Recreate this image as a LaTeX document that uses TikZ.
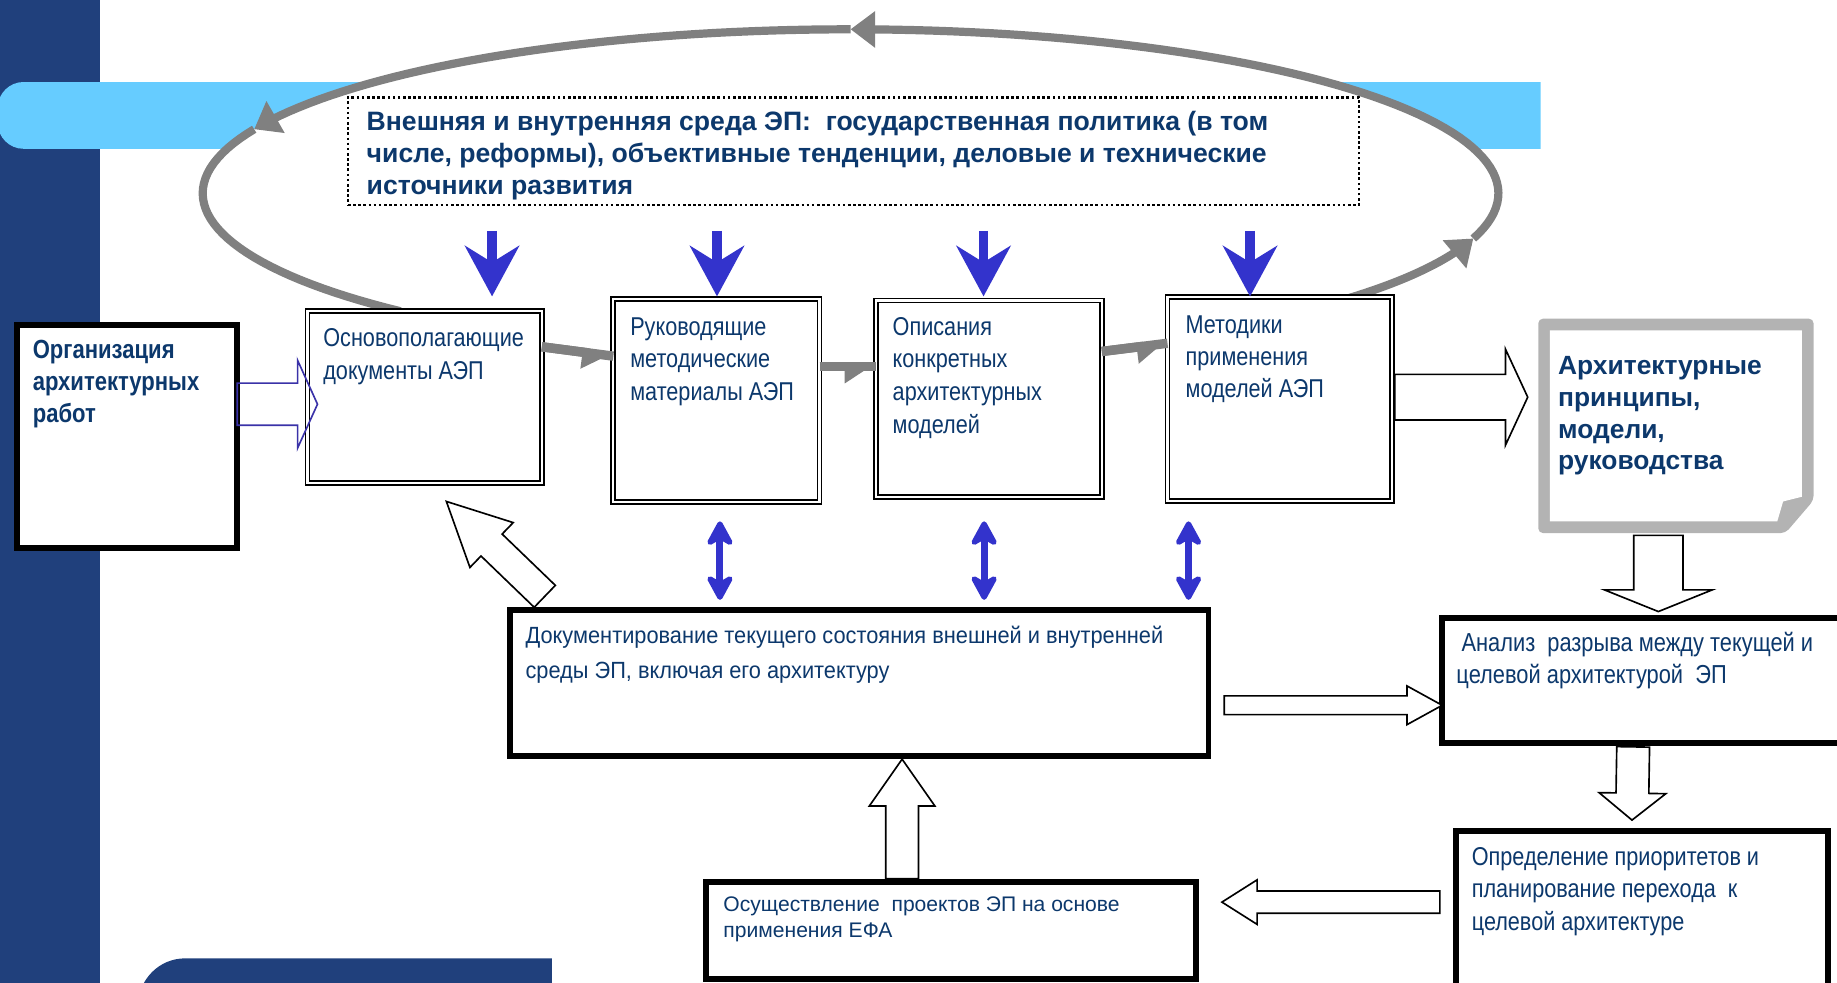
\documentclass[tikz,border=0pt]{standalone}
\usepackage{fontspec}
\setmainfont{Liberation Sans}
\newfontfamily\narrowfont[FakeStretch=0.84]{Liberation Sans}
\newfontfamily\docfont[FakeStretch=0.93]{Liberation Sans}
\usetikzlibrary{calc,arrows.meta}

\definecolor{barblue}{RGB}{32,64,124}
\definecolor{bandblue}{RGB}{102,204,255}
\definecolor{inkblue}{RGB}{12,56,108}
\definecolor{flowblue}{RGB}{51,51,204}
\definecolor{loopgray}{RGB}{128,128,128}
\definecolor{docgray}{RGB}{179,179,179}
\definecolor{edgeblue}{RGB}{58,50,168}

% hollow block arrow: [style]{tail}{tip}{shaft half-width}{head half-width}{head length}
\newcommand{\blockarrow}[6][]{%
  \coordinate (bahead) at ($(#3)!#6!(#2)$);
  \draw[blockedge,#1]
    ($(#2)!#4!90:(#3)$) -- ($(bahead)!#4!90:(#3)$) -- ($(bahead)!#5!90:(#3)$)
    -- (#3) -- ($(bahead)!#5!-90:(#3)$) -- ($(bahead)!#4!-90:(#3)$)
    -- ($(#2)!#4!-90:(#3)$) -- cycle;}

\tikzset{
  blockedge/.style={draw=black, line width=1.4pt, fill=white, line join=miter},
  framebox/.style={draw=black, line width=5pt, fill=white, inner sep=0pt, outer sep=0pt, anchor=north west},
  doublebox/.style={draw=black, double=white, double distance=1.8pt, line width=1.6pt, fill=white, inner sep=0pt, outer sep=0pt, anchor=north west},
  boxtext/.style={inner sep=0pt, outer sep=0pt, anchor=north west, align=left, text=inkblue},
  narrowtext/.style={boxtext, font=\narrowfont\fontsize{22}{28}\selectfont},
  loopline/.style={draw=loopgray, line width=7pt, -{Triangle[length=21pt,width=30pt]}},
  loopend/.style={draw=loopgray, line width=7pt},
  linkline/.style={draw=loopgray, line width=8pt,
    postaction={draw=loopgray, line width=8pt, -{Triangle[harpoon,swap,length=22pt,width=27pt]}}},
  flowdown/.style={draw=flowblue, line width=8pt, -{Stealth[length=43pt,width=46pt,inset=14pt]}},
  flowboth/.style={draw=flowblue, line width=6pt,
    {Stealth[round,length=26pt,width=28pt,inset=8pt]}-{Stealth[round,length=26pt,width=28pt,inset=8pt]}},
}

\begin{document}
\begin{tikzpicture}[x=1pt, y=-1pt]
\useasboundingbox (0,0) rectangle (1568,839);

% slide decoration
\fill[barblue] (0,0) rectangle (85,839);
\fill[bandblue] (1315,70) -- (20,70) .. controls (8,70) and (-2,80) .. (-2,92)
  -- (-2,105) .. controls (-2,117) and (8,127) .. (20,127) -- (1315,127) -- cycle;
\fill[barblue] (471,860) -- (471,818) -- (158,818) .. controls (136,818) and (118,836) .. (118,858) -- cycle;

% white field inside the feedback loop
\fill[white] (726,165) ellipse [x radius=553, y radius=140];

% environment box
\node[draw=black, line width=2.2pt, dash pattern=on 2.2pt off 2.2pt, inner sep=0pt, outer sep=0pt,
  minimum width=863, minimum height=92, anchor=north west] (env) at (297,83) {};

% feedback loop around the environment
\draw[loopline] plot[domain=-40:-16, samples=20] ({726+553*cos(\x)},{165-140*sin(\x)});
\draw[loopline] plot[domain=-16:90, samples=60] ({726+553*cos(\x)},{165-140*sin(\x)});
\draw[loopline] plot[domain=90:157, samples=40] ({726+553*cos(\x)},{165-140*sin(\x)});
\draw[loopend] plot[domain=157:226, samples=40] ({726+553*cos(\x)},{165-140*sin(\x)});

% boxes
\node[framebox, minimum width=188, minimum height=190] (org) at (14.5,277.5) {};
\node[doublebox, minimum width=200, minimum height=147] (b1) at (262.5,265.5) {};
\node[doublebox, minimum width=176, minimum height=173] (b2) at (523.5,255.5) {};
\node[doublebox, minimum width=193, minimum height=168] (b3) at (747.5,256.5) {};
\node[doublebox, minimum width=192, minimum height=174] (b4) at (996.5,253.5) {};
\node[framebox, minimum width=596, minimum height=125] (doc) at (435.5,520.5) {};
\node[framebox, minimum width=360, minimum height=107] (anal) at (1230.5,527.5) {};
\node[framebox, minimum width=318, minimum height=200] (opr) at (1242.5,709.5) {};
\node[framebox, minimum width=418, minimum height=83] (osu) at (602.5,752.5) {};

% result document with folded corner
\node[inner sep=0pt, outer sep=0pt, minimum width=235, minimum height=183, anchor=north west] (arch) at (1313,272) {};
\fill[docgray, rounded corners=4pt] (1313,272) -- (1548,272) -- (1548,427) -- (1524,455) -- (1313,455) -- cycle;
\fill[white] (1323,282) -- (1538,282) -- (1538,424) -- (1522,428) -- (1517,445) -- (1323,445) -- cycle;

% chain of documents
\draw[linkline] ($(b1.east)+(0,-43)$) -- ($(b2.west)+(0,-38)$);
\draw[linkline] ($(b2.east)+(0,-29)$) -- ($(b3.west)+(0,-27.5)$);
\draw[linkline] ($(b3.east)+(0,-40.5)$) -- ($(b4.west)+(0,-47.5)$);

% influence of the environment
\draw[flowdown] ($(env.south -| b1.north)+(57.5,22)$) -- ($(b1.north)+(57.5,-12.5)$);
\draw[flowdown] ($(env.south -| b2.north)+(0.5,22)$) -- ($(b2.north)+(0.5,-2.5)$);
\draw[flowdown] ($(env.south -| b3.north)+(-4.5,22)$) -- ($(b3.north)+(-4.5,-3.5)$);
\draw[flowdown] ($(env.south -| b4.north)+(-25.5,22)$) -- ($(b4.north)+(-25.5,-0.5)$);

% exchange with the current-state documentation
\draw[flowboth] ($(b2.south)+(3,16.5)$) -- ($(doc.north -| b2.south)+(3,-8.5)$);
\draw[flowboth] ($(b3.south)+(-4,20.5)$) -- ($(doc.north -| b3.south)+(-4,-8.5)$);
\draw[flowboth] ($(b4.south)+(-78,17.5)$) -- ($(doc.north -| b4.south)+(-78,-8.5)$);

% process arrows
\coordinate (h1a) at ($(org.east)+(0,-27.5)$);
\coordinate (h1b) at ($(b1.west)+(8.5,6)$);
\blockarrow[draw=edgeblue, fill=none]{h1a}{h1b}{18pt}{37.5pt}{17pt}

\coordinate (h2a) at ($(doc.north west)+(29.5,-11.5)$);
\coordinate (h2b) at ($(b1.south)+(18.5,15.5)$);
\blockarrow{h2a}{h2b}{13pt}{26.6pt}{53.6pt}

\coordinate (h3a) at ($(doc.east)+(13.5,19)$);
\coordinate (h3b) at ($(anal.west)+(0.5,21)$);
\blockarrow{h3a}{h3b}{8pt}{16.5pt}{30pt}

\coordinate (h4a) at ($(b4.east)+(2,-1.5)$);
\coordinate (h4b) at ($(arch.west)+(-9,-24.5)$);
\blockarrow{h4a}{h4b}{19.5pt}{41pt}{19pt}

\coordinate (h5a) at ($(arch.south)+(-15,2)$);
\coordinate (h5b) at ($(anal.north)+(5,-5.5)$);
\blockarrow{h5a}{h5b}{21pt}{46pt}{18.5pt}

\coordinate (h6a) at ($(anal.south)+(-16.5,3)$);
\coordinate (h6b) at ($(opr.north)+(-8.5,-9.5)$);
\blockarrow{h6a}{h6b}{14pt}{28.5pt}{23pt}

\coordinate (h7a) at ($(opr.west)+(-13.5,-39.5)$);
\coordinate (h7b) at ($(osu.east)+(22.5,-24)$);
\blockarrow{h7a}{h7b}{9.5pt}{19pt}{30pt}

\coordinate (h8a) at ($(osu.north)+(-41.5,-2.5)$);
\coordinate (h8b) at ($(doc.south)+(36.5,2.5)$);
\blockarrow{h8a}{h8b}{14pt}{28pt}{40pt}

% texts (each node's top sits 0.7 leading above the first baseline)
\node[boxtext, font=\bfseries\fontsize{22.7}{27.5}\selectfont] (tenv) at (313,91.75)
  {\strut Внешняя и внутренняя среда ЭП:~ государственная политика (в том\\числе, реформы), объективные тенденции, деловые и технические\\источники развития};
\node[boxtext, font=\narrowfont\bfseries\fontsize{22.4}{27.5}\selectfont] (torg) at (28,286.75)
  {\strut Организация\\архитектурных\\работ};
\node[narrowtext] (t1) at (276,276.4) {\strut Основополагающие\\документы АЭП};
\node[narrowtext] (t2) at (538,266.4) {\strut Руководящие\\методические\\материалы АЭП};
\node[narrowtext] (t3) at (762,266.4) {\strut Описания\\конкретных\\архитектурных\\моделей};
\node[narrowtext, font=\narrowfont\fontsize{22}{27}\selectfont] (t4) at (1012,266.1) {\strut Методики\\применения\\моделей АЭП};
\node[boxtext, font=\bfseries\fontsize{22.5}{27}\selectfont] (tarch) at (1330,301.1)
  {\strut Архитектурные\\принципы,\\модели,\\руководства};
\node[boxtext, font=\docfont\fontsize{20}{30}\selectfont] (tdoc) at (448.6,528)
  {\strut Документирование текущего состояния внешней и внутренней\\среды ЭП, включая его архитектуру};
\node[boxtext, font=\narrowfont\fontsize{22.2}{27}\selectfont] (tanal) at (1243.2,537.1)
  {\strut\hspace*{4.3pt}Анализ~ разрыва между текущей и\\целевой архитектурой~ ЭП};
\node[boxtext, font=\narrowfont\fontsize{22}{27.7}\selectfont] (topr) at (1256.3,719.1)
  {\strut Определение приоритетов и\\планирование перехода~ к\\целевой архитектуре};
\node[boxtext, font=\fontsize{18}{22}\selectfont] (tosu) at (617.5,762.6)
  {\strut Осуществление~ проектов ЭП на основе\\применения ЕФА};
\end{tikzpicture}
\end{document}
